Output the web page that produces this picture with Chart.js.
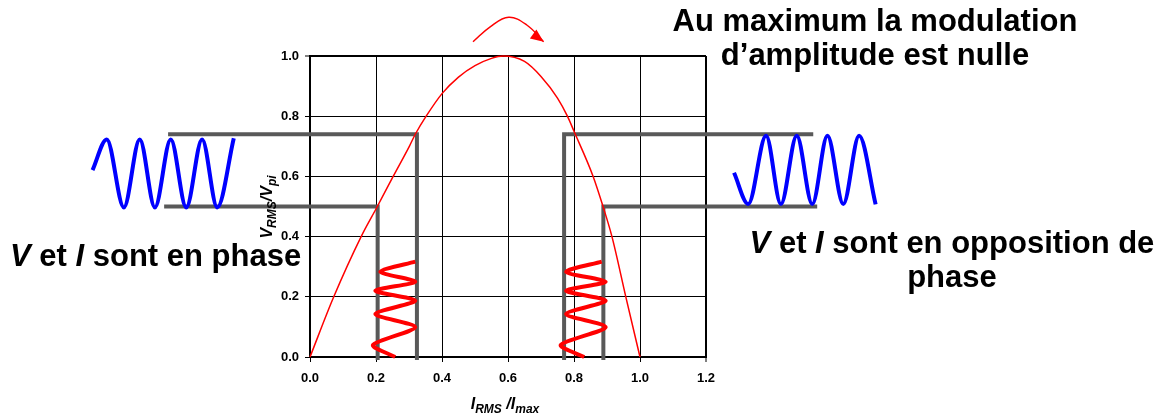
<!DOCTYPE html>
<html>
<head>
<meta charset="utf-8">
<title>V/Vpi en fonction de I/Imax</title>
<script src="https://cdn.jsdelivr.net/npm/chart.js@4.4.0/dist/chart.umd.min.js"></script>
<style>
    html, body { margin: 0; padding: 0; background: #fff; }
    #wrap { position: relative; width: 1167px; height: 416px; font-family: 'Liberation Sans', Arial, sans-serif; color: #000; }
    #chart { position: absolute; left: 0; top: 0; }
    .note { position: absolute; font-weight: bold; font-size: 31px; line-height: 34px; white-space: nowrap; }
    .axis-title { position: absolute; font-weight: bold; font-style: italic; font-size: 16px; line-height: 20px; white-space: nowrap; text-align: center; }
    .axis-title sub { font-size: 12px; line-height: 0; vertical-align: -4px; }
</style>
</head>
<body>
<div id="wrap">
    <canvas id="chart" width="1167" height="416"></canvas>

    <div class="note" style="left:620px; top:4px; width:510px; text-align:center;">Au maximum la modulation<br>d’amplitude est nulle</div>
    <div class="note" style="left:10px; top:239px;"><i>V</i> et <i>I</i> sont en phase</div>
    <div class="note" style="left:732px; top:226px; width:440px; text-align:center;"><i>V</i> et <i>I</i> sont en opposition de<br>phase</div>

    <div class="axis-title" style="left:405px; top:394px; width:200px;">I<sub>RMS</sub> /I<sub>max</sub></div>
    <div class="axis-title" style="left:167px; top:197px; width:200px; transform:rotate(-90deg);">V<sub>RMS</sub>/V<sub>pi</sub></div>
</div>

<script>
// Transfer curve V_RMS/V_pi vs I_RMS/I_max
const ratioX = [0, 0.072, 0.155, 0.204, 0.252, 0.301, 0.319, 0.352, 0.40, 0.45, 0.50, 0.55, 0.585,
                0.65, 0.70, 0.75, 0.78, 0.80, 0.858, 0.888, 0.915, 0.957, 1.0];
const ratioY = [0, 0.2, 0.4, 0.5, 0.6, 0.70, 0.74, 0.80, 0.875, 0.93, 0.968, 0.992, 1.0,
                0.982, 0.932, 0.86, 0.80, 0.75, 0.6, 0.5, 0.4, 0.2, 0];

// Operating point steps (gray)
const stepLowLeftX = [-0.442, 0.205, 0.205];
const stepLowLeftY = [0.5, 0.5, -0.01];
const stepHighLeftX = [-0.430, 0.324, 0.324];
const stepHighLeftY = [0.74, 0.74, -0.01];
const stepHighRightX = [0.770, 0.770, 1.525];
const stepHighRightY = [-0.01, 0.74, 0.74];
const stepLowRightX = [0.889, 0.889, 1.537];
const stepLowRightY = [-0.01, 0.5, 0.5];

// Output voltage waves (blue)
const voltInPhaseX = [-0.659, -0.616, -0.564, -0.516, -0.470, -0.422, -0.375, -0.327, -0.281, -0.231];
const voltInPhaseY = [0.621, 0.723, 0.497, 0.723, 0.497, 0.723, 0.497, 0.723, 0.497, 0.727];
const voltOppositeX = [1.285, 1.328, 1.382, 1.427, 1.475, 1.522, 1.568, 1.616, 1.664, 1.714];
const voltOppositeY = [0.612, 0.508, 0.735, 0.508, 0.735, 0.508, 0.735, 0.508, 0.735, 0.507];

// Current modulation (red, drawn along the vertical axis)
const currentLowX = [0.258, 0.191, 0.319, 0.198, 0.319, 0.198, 0.319, 0.213, 0.319];
const currentLowY = [0.0, 0.04, 0.099, 0.143, 0.187, 0.220, 0.250, 0.283, 0.317];
const currentHighX = [0.831, 0.760, 0.896, 0.776, 0.896, 0.776, 0.896, 0.776, 0.884];
const currentHighY = [0.0, 0.04, 0.099, 0.143, 0.187, 0.220, 0.250, 0.283, 0.317];

// Arrow over the maximum
const arrowX = [0.494, 0.546, 0.602, 0.657, 0.708];
const arrowY = [1.0475, 1.097, 1.1286, 1.103, 1.0475];

// Axis ticks
const xTicks = [0, 0.2, 0.4, 0.6, 0.8, 1.0, 1.2];
const yTicks = [0, 0.2, 0.4, 0.6, 0.8, 1.0];

const toPoints = (xs, ys) => xs.map((x, i) => ({ x: x, y: ys[i] }));

const tickFont = { family: 'Liberation Sans', size: 13, weight: 'bold' };

// arrow head at the end of the arrow dataset
const arrowHead = {
    id: 'arrowHead',
    afterDatasetsDraw(chart) {
        const meta = chart.getDatasetMeta(0);
        const pts = meta.data;
        if (pts.length < 2) return;
        const tip = pts[pts.length - 1];
        const prev = pts[pts.length - 2];
        const ang = Math.atan2(tip.y - prev.y, tip.x - prev.x) - 0.15;
        const ctx = chart.ctx;
        ctx.save();
        ctx.translate(tip.x, tip.y);
        ctx.rotate(ang);
        ctx.fillStyle = '#ff0000';
        ctx.beginPath();
        ctx.moveTo(0, 0);
        ctx.lineTo(-13, -5.5);
        ctx.lineTo(-13, 5.5);
        ctx.closePath();
        ctx.fill();
        ctx.restore();
    }
};

const line = (label, xs, ys, color, width, extra) => Object.assign({
    label: label,
    data: toPoints(xs, ys),
    showLine: true,
    borderColor: color,
    backgroundColor: color,
    borderWidth: width,
    pointRadius: 0,
    clip: false
}, extra || {});

new Chart(document.getElementById('chart').getContext('2d'), {
    type: 'scatter',
    data: {
        datasets: [
            line('Flèche', arrowX, arrowY, '#ff0000', 1.5, { tension: 0.4 }),
            line('I (phase)', currentLowX, currentLowY, '#ff0000', 4, { tension: 0.25 }),
            line('I (opposition)', currentHighX, currentHighY, '#ff0000', 4, { tension: 0.25 }),
            line('V (phase)', voltInPhaseX, voltInPhaseY, '#0000ff', 4, { cubicInterpolationMode: 'monotone' }),
            line('V (opposition)', voltOppositeX, voltOppositeY, '#0000ff', 4, { cubicInterpolationMode: 'monotone' }),
            line('V/Vpi', ratioX, ratioY, '#ff0000', 1.5, { cubicInterpolationMode: 'monotone' }),
            line('Palier 0.5 gauche', stepLowLeftX, stepLowLeftY, '#595959', 4),
            line('Palier 0.74 gauche', stepHighLeftX, stepHighLeftY, '#595959', 4),
            line('Palier 0.74 droite', stepHighRightX, stepHighRightY, '#595959', 4),
            line('Palier 0.5 droite', stepLowRightX, stepLowRightY, '#595959', 4)
        ]
    },
    options: {
        responsive: false,
        animation: false,
        events: [],
        layout: { padding: { left: 270, right: 461, top: 56, bottom: 29 } },
        plugins: { legend: { display: false }, tooltip: { enabled: false } },
        scales: {
            x: {
                type: 'linear',
                // fixed range without options.min/max so points outside are still drawn
                afterDataLimits(scale) { scale.min = xTicks[0]; scale.max = xTicks[xTicks.length - 1]; },
                afterBuildTicks(scale) { scale.ticks = xTicks.map(v => ({ value: v })); },
                afterFit(scale) { scale.height = 30; },
                ticks: { font: tickFont, color: '#000', padding: 9, maxRotation: 0, callback: v => v.toFixed(1) },
                grid: {
                    color: '#000',
                    lineWidth: c => (c.tick && c.tick.value === 1.2) ? 2 : 1,
                    tickLength: 5,
                    tickColor: '#000',
                    tickWidth: 1
                },
                border: { display: true, color: '#000', width: 2 }
            },
            y: {
                min: 0,
                max: 1,
                afterBuildTicks(scale) { scale.ticks = yTicks.map(v => ({ value: v })); },
                afterFit(scale) { scale.width = 40; },
                ticks: { font: tickFont, color: '#000', padding: 6, callback: v => v.toFixed(1) },
                grid: {
                    color: '#000',
                    lineWidth: c => (c.tick && c.tick.value === 1) ? 2 : 1,
                    tickLength: 5,
                    tickColor: '#000',
                    tickWidth: 1
                },
                border: { display: true, color: '#000', width: 2 }
            }
        }
    },
    plugins: [arrowHead]
});
</script>
</body>
</html>
